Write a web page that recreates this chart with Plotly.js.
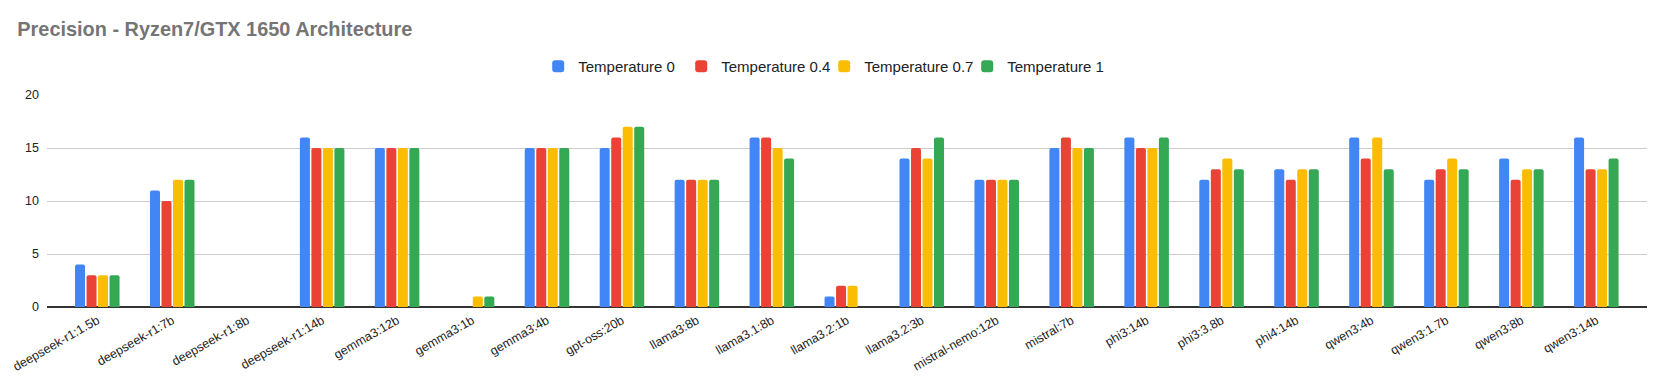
<!DOCTYPE html>
<html>
<head>
<meta charset="utf-8">
<script src="https://cdn.plot.ly/plotly-3.0.1.min.js"></script>
<style>
  html, body { margin: 0; padding: 0; background: #fff; }
  #chart { width: 1666px; height: 387px; }
</style>
</head>
<body>
<div id="chart"></div>
<script>
const models = [
    'deepseek-r1:1.5b', 'deepseek-r1:7b', 'deepseek-r1:8b', 'deepseek-r1:14b',
    'gemma3:12b', 'gemma3:1b', 'gemma3:4b', 'gpt-oss:20b', 'llama3:8b',
    'llama3.1:8b', 'llama3.2:1b', 'llama3.2:3b', 'mistral-nemo:12b', 'mistral:7b',
    'phi3:14b', 'phi3:3.8b', 'phi4:14b', 'qwen3:4b', 'qwen3:1.7b', 'qwen3:8b', 'qwen3:14b'
];

const temp0  = [4, 11, 0, 16, 15, 0, 15, 15, 12, 16, 1, 14, 12, 15, 16, 12, 13, 16, 12, 14, 16];
const temp04 = [3, 10, 0, 15, 15, 0, 15, 16, 12, 16, 2, 15, 12, 16, 15, 13, 12, 14, 13, 12, 13];
const temp07 = [3, 12, 0, 15, 15, 1, 15, 17, 12, 15, 2, 14, 12, 15, 15, 14, 13, 16, 14, 13, 13];
const temp1  = [3, 12, 0, 15, 15, 1, 15, 17, 12, 14, 0, 16, 12, 15, 16, 13, 13, 13, 13, 13, 14];

const seriesNames = ['Temperature 0', 'Temperature 0.4', 'Temperature 0.7', 'Temperature 1'];
const seriesColors = ['#4285F4', '#EA4335', '#FBBC04', '#34A853'];

const font = '"Liberation Sans", Arial, sans-serif';

const traces = [temp0, temp04, temp07, temp1].map((vals, i) => ({
    type: 'bar',
    x: models,
    y: vals,
    name: seriesNames[i],
    marker: { color: seriesColors[i], cornerradius: 2 },
    hoverinfo: 'x+y+name'
}));

const layout = {
    width: 1666,
    height: 387,
    margin: { t: 95, r: 19, b: 80, l: 47 },
    paper_bgcolor: '#fff',
    plot_bgcolor: '#fff',
    font: { family: font, color: '#222', size: 12 },
    title: {
        text: '<b>Precision - Ryzen7/GTX 1650 Architecture</b>',
        font: { family: font, size: 19.9, color: '#757575' },
        x: 0.0104, xanchor: 'left', xref: 'container',
        y: 0.924, yanchor: 'middle'
    },
    barmode: 'group',
    bargap: 0.386,
    bargroupgap: 0.13,
    showlegend: true,
    legend: {
        orientation: 'h',
        x: 0.307, xanchor: 'left',
        y: 1.135, yanchor: 'middle',
        font: { family: font, size: 15, color: '#222' },
        itemwidth: 30,
        entrywidth: 98,
        entrywidthmode: 'pixels',
        traceorder: 'normal'
    },
    xaxis: {
        type: 'category',
        range: [-0.671, 20.676],
        tickangle: -30,
        tickfont: { family: font, size: 12.5, color: '#222' },
        showgrid: false,
        showline: false,
        ticks: '',
        ticklabelstandoff: 3
    },
    yaxis: {
        range: [0, 20],
        tickvals: [0, 5, 10, 15, 20],
        tickfont: { family: font, size: 12.5, color: '#222' },
        gridcolor: '#cccccc',
        zeroline: true,
        zerolinecolor: '#333',
        zerolinewidth: 1.5,
        ticks: '',
        ticklabelstandoff: 7
    }
};

Plotly.newPlot('chart', traces, layout, { displayModeBar: false, responsive: false });
</script>
</body>
</html>
